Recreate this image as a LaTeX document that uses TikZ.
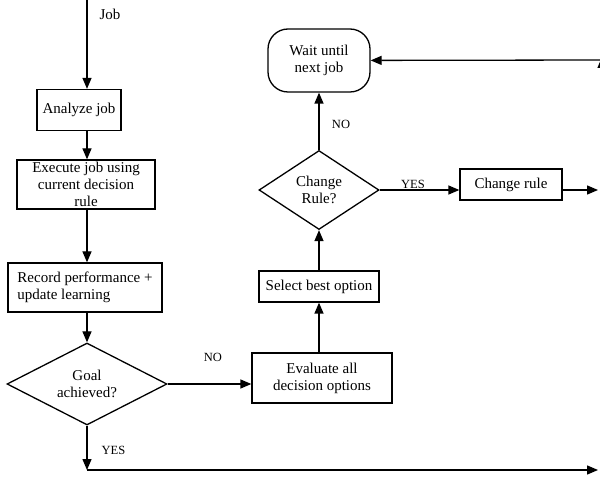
\documentclass[tikz,border=0pt]{standalone}
\usepackage{fontspec}
\setmainfont{Liberation Serif}
\usetikzlibrary{arrows.meta, shapes.geometric}

\newcommand\boxfont{\fontsize{15}{16.8}\selectfont}
\newcommand\lblfont{\fontsize{12.5}{14}\selectfont}

\begin{document}
\begin{tikzpicture}[x=1pt, y=1pt,
  box/.style = {draw, align=center, inner sep=2pt, font=\boxfont},
  dec/.style = {draw, diamond, aspect=1.6, inner sep=0pt, align=center,
                font=\boxfont},
  lbl/.style = {inner sep=0pt, font=\lblfont},
  >={Triangle[length=11pt,width=9pt]}, line width=1.3pt
]
  \useasboundingbox (0,0) rectangle (600,-478);

  % left column
  \node[box, minimum width=84, minimum height=41]  (analyze)  at (79,-110)
      {Analyze job};
  \node[box, minimum width=138, minimum height=49] (execute)  at (86,-184.5)
      {Execute job using\\current decision\\rule};
  \node[box, minimum width=154, minimum height=49, align=left] (record) at (85,-287.5)
      {Record performance +\\update learning};
  \node[dec, minimum width=160, minimum height=82] (goal) at (87,-384)
      {Goal\\achieved?};

  % right column
  \node[box, minimum width=140, minimum height=50] (evaluate) at (322,-378)
      {Evaluate all\\decision options};
  \node[box, minimum width=120, minimum height=31] (select)   at (319,-286.5)
      {Select best option};
  \node[dec, minimum width=120, minimum height=79] (change)   at (319,-190)
      {Change\\Rule?};
  \node[box, minimum width=102, minimum height=31] (rule)     at (511,-184.5)
      {Change rule};
  \node[box, rounded corners=20pt, minimum width=102, minimum height=63] (wait)
      at (319,-60.5) {Wait until\\next job};

  \coordinate (jobin) at (87,0);
  \coordinate (jn) at (87,-470);
  \coordinate (rb) at (602,-470);
  \coordinate (rm) at (602,-190);
  \coordinate (rt) at (602,-60);

  \node[lbl, anchor=west, font=\boxfont] (joblbl) at (99,-14) {Job};
  \node[lbl] (no1)  at (213,-357) {NO};
  \node[lbl, anchor=west] (yes1) at (101,-450) {YES};
  \node[lbl] (no2)  at (341,-124) {NO};
  \node[lbl, anchor=base] (yes2) at (413,-188.5) {YES};

  \draw[->] (jobin) -- (jobin |- analyze.north);
  \draw[->] (analyze.south -| jobin) -- (execute.north -| jobin);
  \draw[->] (execute.south -| jobin) -- (record.north -| jobin);
  \draw[->] (record.south -| jobin) -- (goal.north);
  \draw[->] (goal.east) -- (goal.east -| evaluate.west);
  \draw[->] (evaluate.north -| select) -- (select.south);
  \draw[->] (select) -- (change);
  \draw[->] (change) -- (wait);
  \draw[->] (change.east) -- (change.east -| rule.west);
  \draw[->, shorten >=4pt] (change.east -| rule.east) -- (rm);
  \draw[->] (goal.south) -- (jn);
  \draw[->, shorten >=4pt] (jn) -- (rb);
  \draw[->, shorten >=-3pt] (rb) -- (rt);
  \draw[->] (rt) -- (wait);
\end{tikzpicture}
\end{document}
